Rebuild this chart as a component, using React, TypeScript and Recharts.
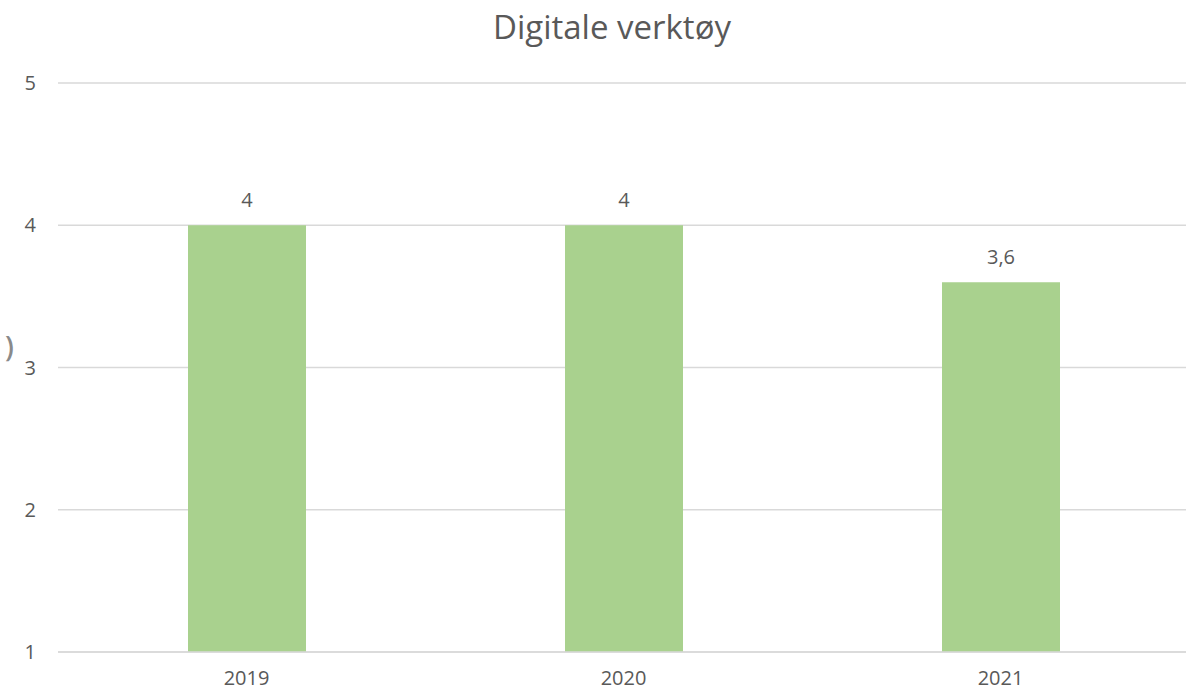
import React from 'react';
import { BarChart, Bar, XAxis, YAxis, CartesianGrid, LabelList } from 'recharts';

const years = ['2019', '2020', '2021'];
const scores = [4, 4, 3.6];
const yTicks = [1, 2, 3, 4, 5];

const FONT = '"Open Sans", sans-serif';
const TEXT = '#595959';

const data = years.map((y, i) => ({ year: y, score: scores[i] }));

const fmt = (v: any) => String(v).replace('.', ',');

export default function App() {
  return (
    <div
      style={{
        position: 'absolute',
        left: 0,
        top: 0,
        width: 1186,
        height: 693,
        overflow: 'hidden',
        background: '#fff',
        fontFamily: FONT
      }}
    >
      <div
        style={{
          position: 'absolute',
          top: 4,
          left: 0,
          width: 1224,
          textAlign: 'center',
          fontSize: 33,
          color: TEXT
        }}
      >
        Digitale verktøy
      </div>
      <span style={{ position: 'absolute', left: 5, top: 327, fontSize: 28, color: '#8a8a8a', fontWeight: 600 }}>)</span>
      <BarChart
        width={1190}
        height={693}
        data={data}
        margin={{ top: 83, right: 1, left: 0, bottom: 0 }}
        barCategoryGap={0}
      >
        <CartesianGrid vertical={false} stroke="#d9d9d9" strokeWidth={1.5} />
        <XAxis
          dataKey="year"
          height={41}
          tickLine={false}
          axisLine={{ stroke: '#d9d9d9', strokeWidth: 1.5 }}
          tickMargin={13}
          tick={{ fill: TEXT, fontSize: 20, fontFamily: FONT }}
        />
        <YAxis
          width={58}
          domain={[1, 5]}
          ticks={yTicks}
          interval={0}
          tickLine={false}
          axisLine={false}
          tickMargin={16}
          tick={{ fill: TEXT, fontSize: 20, fontFamily: FONT }}
        />
        <Bar dataKey="score" fill="#a9d18e" barSize={118} isAnimationActive={false}>
          <LabelList
            dataKey="score"
            position="top"
            offset={18}
            formatter={fmt}
            style={{ fill: TEXT, fontSize: 20, fontFamily: FONT }}
          />
        </Bar>
      </BarChart>
    </div>
  );
}
